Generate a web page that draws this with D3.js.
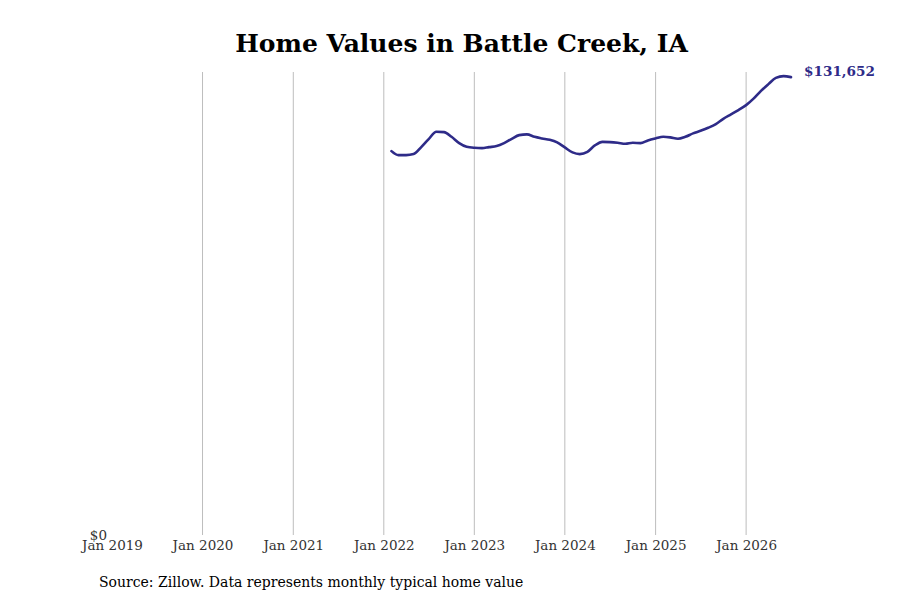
<!DOCTYPE html>
<html>
<head>
<meta charset="utf-8">
<script src="https://cdn.jsdelivr.net/npm/d3@7"></script>
<style>
  body { margin: 0; background: #fff; }
  text { font-family: "DejaVu Serif", serif; }
</style>
</head>
<body>
<svg id="chart" width="900" height="600"></svg>
<script>
const months = [
  "2022-02","2022-03","2022-04","2022-05","2022-06","2022-07","2022-08","2022-09","2022-10","2022-11","2022-12",
  "2023-01","2023-02","2023-03","2023-04","2023-05","2023-06","2023-07","2023-08","2023-09","2023-10","2023-11","2023-12",
  "2024-01","2024-02","2024-03","2024-04","2024-05","2024-06","2024-07","2024-08","2024-09","2024-10","2024-11","2024-12",
  "2025-01","2025-02","2025-03","2025-04","2025-05","2025-06","2025-07","2025-08","2025-09","2025-10","2025-11","2025-12",
  "2026-01","2026-02","2026-03","2026-04","2026-05","2026-06","2026-07"
];
const homeValues = [
  110380, 109230, 109230, 109520, 111530, 113830, 115930, 115850, 114490, 112680, 111620,
  111330, 111250, 111530, 111820, 112680, 113920, 114980, 115180, 114490, 114030, 113630, 112880,
  111440, 110010, 109520, 110180, 112020, 113050, 112970, 112770, 112480, 112770, 112680, 113460,
  114030, 114490, 114320, 113920, 114490, 115470, 116220, 117080, 118140, 119670, 120930, 122170,
  123600, 125530, 127630, 129640, 131450, 131940, 131652
];
const tickYears = [2019, 2020, 2021, 2022, 2023, 2024, 2025, 2026];

const parseMonth = d3.timeParse("%Y-%m");
const data = months.map((m, i) => ({ date: parseMonth(m), value: homeValues[i] }));

const svg = d3.select("#chart");
const margin = { top: 72, right: 109, bottom: 65, left: 112 };
const width = 900 - margin.left - margin.right;
const height = 600 - margin.top - margin.bottom;
const lineColor = "#2e2b88";

const x = d3.scaleTime()
  .domain([new Date(2019, 0, 1), new Date(2026, 6, 1)])
  .range([0, width]);

const y = d3.scaleLinear()
  .domain([0, d3.max(homeValues) * 1.009])
  .range([height, 0]);

const g = svg.append("g").attr("transform", `translate(${margin.left},${margin.top})`);

// vertical gridlines, one per January (skip the first at the left edge)
g.append("g")
  .selectAll("line")
  .data(tickYears.slice(1))
  .join("line")
  .attr("x1", d => x(new Date(d, 0, 1)))
  .attr("x2", d => x(new Date(d, 0, 1)))
  .attr("y1", 0)
  .attr("y2", height)
  .attr("stroke", "#bdbdbd")
  .attr("stroke-width", 1);

const xAxis = d3.axisBottom(x)
  .tickValues(tickYears.map(yr => new Date(yr, 0, 1)))
  .tickFormat(d3.timeFormat("%b %Y"))
  .tickSize(0)
  .tickPadding(5);

g.append("g")
  .attr("transform", `translate(0,${height})`)
  .call(xAxis)
  .call(ax => ax.select(".domain").remove())
  .call(ax => ax.selectAll("text")
    .attr("font-family", "DejaVu Serif")
    .attr("font-size", 13.5)
    .attr("fill", "#333"));

// $0 label
g.append("text")
  .attr("x", -5)
  .attr("y", y(0) + 5)
  .attr("text-anchor", "end")
  .attr("font-size", 13.5)
  .attr("fill", "#333")
  .text("$0");

const line = d3.line()
  .x(d => x(d.date))
  .y(d => y(d.value))
  .curve(d3.curveMonotoneX);

g.append("path")
  .datum(data)
  .attr("fill", "none")
  .attr("stroke", lineColor)
  .attr("stroke-width", 2.6)
  .attr("stroke-linejoin", "round")
  .attr("stroke-linecap", "round")
  .attr("d", line);

const last = data[data.length - 1];
g.append("text")
  .attr("x", x(last.date) + 13)
  .attr("y", y(last.value) - 1)
  .attr("font-size", 13.6)
  .attr("font-weight", "bold")
  .attr("fill", lineColor)
  .text(d3.format("$,")(last.value));

svg.append("text")
  .attr("x", 461.5)
  .attr("y", 52)
  .attr("text-anchor", "middle")
  .attr("font-size", 25)
  .attr("font-weight", "bold")
  .attr("fill", "#000")
  .text("Home Values in Battle Creek, IA");

svg.append("text")
  .attr("x", 99)
  .attr("y", 587)
  .attr("font-size", 14)
  .attr("fill", "#000")
  .text("Source: Zillow. Data represents monthly typical home value");
</script>
</body>
</html>
